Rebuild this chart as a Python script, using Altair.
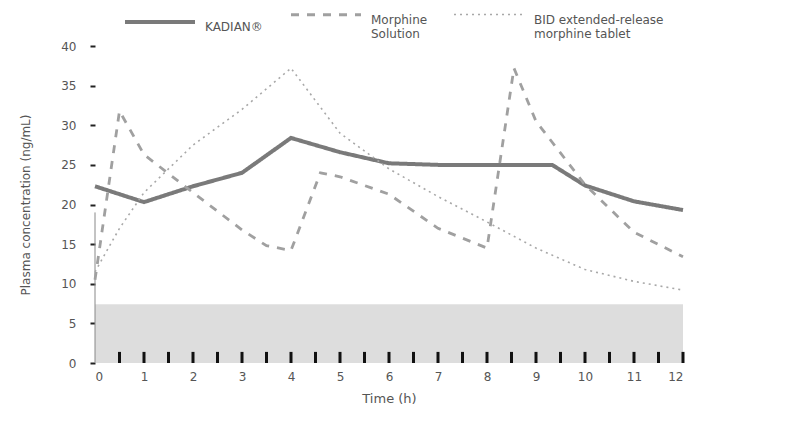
import altair as alt
import pandas as pd

series_names = ["KADIAN®", "Morphine|Solution", "BID extended-release|morphine tablet"]

t_kadian = [0, 1, 2, 3, 4, 5, 6, 7, 8, 9, 9.33, 10, 11, 12]
kadian = [22.3, 20.3, 22.3, 24.0, 28.4, 26.6, 25.2, 25.0, 25.0, 25.0, 25.0, 22.4, 20.4, 19.3]

t_solution = [0, 0.5, 1, 2, 3, 3.5, 4, 4.6, 5, 6, 7, 8, 8.55, 9, 10, 11, 12]
solution = [10.5, 31.8, 26.3, 21.5, 16.8, 14.8, 14.2, 24.0, 23.5, 21.3, 17.0, 14.5, 37.2, 30.5, 22.5, 16.5, 13.4]

t_bid = [0, 0.5, 1, 2, 3, 4, 5, 6, 7, 8, 9, 10, 11, 12]
bid = [11.5, 17.0, 21.5, 27.5, 32.0, 37.2, 29.0, 24.5, 21.0, 17.8, 14.5, 11.8, 10.3, 9.2]

band_t = [0, 12]
band_top = [7.4, 7.4]

tick_t = [0.5, 1, 1.5, 2, 2.5, 3, 3.5, 4, 4.5, 5, 5.5, 6, 6.5, 7, 7.5, 8, 8.5, 9,
          9.5, 10, 10.5, 11, 11.5, 12]
tick_h = 1.4

x_ticks = [0, 1, 2, 3, 4, 5, 6, 7, 8, 9, 10, 11, 12]
y_ticks = [0, 5, 10, 15, 20, 25, 30, 35, 40]

rows = []
for t, v in zip(t_kadian, kadian):
    rows.append({"t": t, "v": v, "s": series_names[0]})
for t, v in zip(t_solution, solution):
    rows.append({"t": t, "v": v, "s": series_names[1]})
for t, v in zip(t_bid, bid):
    rows.append({"t": t, "v": v, "s": series_names[2]})
df = pd.DataFrame(rows)

FONT = "DejaVu Sans"
xscale = alt.Scale(domain=[0, 12], nice=False)
yscale = alt.Scale(domain=[0, 40], nice=False)

x_axis = alt.Axis(values=x_ticks, title="Time (h)", domain=False, ticks=False,
                  grid=False, labelFont=FONT, labelFontSize=12, labelColor="#555",
                  labelOverlap=False,
                  titleFont=FONT, titleFontSize=13, titleFontWeight="normal",
                  titleColor="#555", labelPadding=8, titlePadding=10)
y_axis = alt.Axis(values=y_ticks, title="Plasma concentration (ng/mL)", domain=False,
                  grid=False, tickColor="#222", tickSize=5, tickWidth=2,
                  labelOverlap=False,
                  labelFont=FONT, labelFontSize=12, labelColor="#555",
                  labelPadding=14, titleFont=FONT, titleFontSize=12,
                  titleFontWeight="normal", titleColor="#555", titlePadding=28)

band = alt.Chart(pd.DataFrame({"t": band_t, "v": band_top})).mark_area(
    color="#d9d9d9", opacity=0.9
).encode(
    x=alt.X("t:Q", scale=xscale, axis=x_axis),
    y=alt.Y("v:Q", scale=yscale, axis=y_axis),
)

ticks = alt.Chart(pd.DataFrame({"t": tick_t, "h": [tick_h] * len(tick_t)})).mark_rule(
    color="#111", strokeWidth=3
).encode(
    x=alt.X("t:Q", scale=xscale, axis=x_axis),
    y=alt.Y("z:Q", scale=yscale, axis=y_axis),
    y2="h:Q",
).transform_calculate(z="0")

stub = alt.Chart(pd.DataFrame({"t": [0], "a": [0], "b": [19]})).mark_rule(
    color="#888", strokeWidth=1
).encode(x=alt.X("t:Q", scale=xscale, axis=x_axis),
         y=alt.Y("a:Q", scale=yscale, axis=y_axis), y2="b:Q")

lines = alt.Chart(df).mark_line().encode(
    x=alt.X("t:Q", scale=xscale, axis=x_axis),
    y=alt.Y("v:Q", scale=yscale, axis=y_axis),
    color=alt.Color("s:N", sort=series_names,
                    scale=alt.Scale(domain=series_names, range=["#7a7a7a", "#a0a0a0", "#a8a8a8"]),
                    legend=alt.Legend(title=None, orient="none", legendX=28, legendY=-68,
                                      direction="horizontal", columns=3,
                                      symbolType="stroke", symbolSize=4900,
                                      symbolStrokeWidth=2,
                                      labelFont=FONT, labelFontSize=12, labelColor="#555",
                                      labelExpr="split(datum.label, '|')",
                                      labelLimit=250, columnPadding=22,
                                      labelBaseline="top", labelOffset=8)),
    strokeDash=alt.StrokeDash("s:N", sort=series_names,
                              scale=alt.Scale(domain=series_names,
                                              range=[[1, 0], [8, 8], [2, 4]]),
                              legend=None),
    strokeWidth=alt.StrokeWidth("s:N", sort=series_names,
                                scale=alt.Scale(domain=series_names, range=[4, 1.6, 1.2]),
                                legend=None),
    order="t:Q",
)

chart = alt.layer(band, ticks, stub, lines).properties(
    width=588, height=317,
    autosize="none",
    padding={"left": 87, "top": 38, "right": 102, "bottom": 52},
).configure_view(stroke=None)

chart.save("out.html", embed_options={"renderer": "svg", "actions": False})
